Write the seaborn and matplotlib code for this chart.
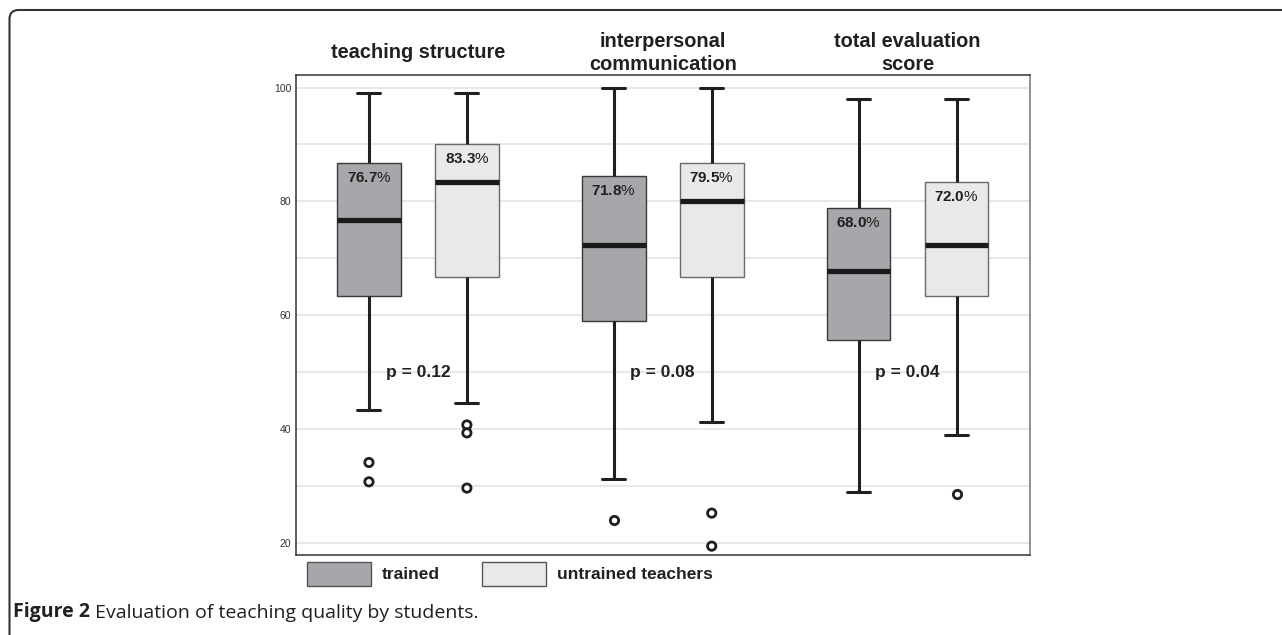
import numpy as np
import pandas as pd
import seaborn as sns
import matplotlib.pyplot as plt
from matplotlib.patches import Patch, FancyBboxPatch
from matplotlib.ticker import MultipleLocator
from matplotlib.transforms import IdentityTransform

# categories and groups
categories = ["structure", "communication", "total"]
titles = ["teaching structure", "interpersonal\ncommunication", "total evaluation\nscore"]
groups = ["trained", "untrained teachers"]
group_colors = ["#a6a7aa", "#e9e9eb"]

# box summaries: whisker low, Q1, median, Q3, whisker high
trained_low = [43.3, 31.2, 28.9]
trained_q1 = [63.4, 59.0, 55.6]
trained_med = [76.7, 72.3, 67.8]
trained_q3 = [86.8, 84.5, 78.9]
trained_high = [99.0, 100.0, 97.9]

untrained_low = [44.5, 41.2, 38.9]
untrained_q1 = [66.7, 66.7, 63.4]
untrained_med = [83.4, 80.0, 72.3]
untrained_q3 = [90.1, 86.7, 83.4]
untrained_high = [99.0, 100.0, 97.9]

trained_outliers = [[34.1, 30.7], [24.0], []]
untrained_outliers = [[40.7, 39.3, 29.6], [25.2, 19.4], [28.5]]

# printed labels
trained_labels = ["76.7", "71.8", "68.0"]
untrained_labels = ["83.3", "79.5", "72.0"]
p_values = ["p = 0.12", "p = 0.08", "p = 0.04"]


def main():
    sns.set_theme(style="whitegrid")
    plt.rcParams['font.family'] = ['Liberation Sans', 'DejaVu Sans']
    plt.rcParams['mathtext.fontset'] = 'custom'
    plt.rcParams['mathtext.bf'] = 'Liberation Sans:bold'
    plt.rcParams['mathtext.rm'] = 'Liberation Sans'
    ink = "#231f20"

    # long-form tables for seaborn
    summaries = {
        "trained": (trained_low, trained_q1, trained_med, trained_q3, trained_high),
        "untrained teachers": (untrained_low, untrained_q1, untrained_med, untrained_q3, untrained_high),
    }
    rows = []
    for grp, stats in summaries.items():
        for i, cat in enumerate(categories):
            for s in stats:
                rows.append({"category": cat, "group": grp, "score": s[i]})
    box_df = pd.DataFrame(rows)

    out_rows = []
    for grp, outs in zip(groups, [trained_outliers, untrained_outliers]):
        for cat, vals in zip(categories, outs):
            for v in vals:
                out_rows.append({"category": cat, "group": grp, "score": v})
    out_df = pd.DataFrame(out_rows)

    fig = plt.figure(figsize=(12.82, 6.35), dpi=100)
    ax = fig.add_axes([295.5 / 1282, 80 / 635, 734.5 / 1282, 480 / 635])

    sns.boxplot(data=box_df, x="category", y="score", hue="group",
                order=categories, hue_order=groups, palette=group_colors,
                saturation=1, width=0.8, gap=0.35, whis=(0, 100),
                showfliers=False, linecolor=ink, linewidth=2.2,
                capwidths=0.094, boxprops=dict(linewidth=1.0),
                medianprops=dict(linewidth=3.8, color="#1a1a1a"),
                legend=False, ax=ax)
    for p in ax.patches:
        fc = p.get_facecolor()
        p.set_edgecolor("#3a3a3a" if fc[0] < 0.8 else "#6a6a6a")

    sns.stripplot(data=out_df, x="category", y="score", hue="group",
                  order=categories, hue_order=groups,
                  palette=["white", "white"], dodge=True, jitter=False,
                  size=6, linewidth=2.0, edgecolor=ink, legend=False,
                  ax=ax, zorder=4)

    ax.set_xlim(-0.5, 2.5)
    ax.set_ylim(17.84, 102.2)
    ax.set(xlabel="", ylabel="")
    ax.set_yticks([20, 40, 60, 80, 100])
    ax.yaxis.set_minor_locator(MultipleLocator(10))
    ax.tick_params(axis='x', length=0, labelbottom=False)
    ax.tick_params(axis='y', which='both', length=0, pad=3, labelsize=7.5, labelcolor="#333333")
    ax.grid(False)
    ax.grid(True, axis='y', which='both', color="#e8e8e8", linewidth=1.5)
    ax.set_axisbelow(True)
    for side, sp in ax.spines.items():
        sp.set_visible(True)
        sp.set_linewidth(1.1)
        sp.set_color("#777777" if side == "right" else "#333333")

    # panel titles
    for i, t in enumerate(titles):
        ax.text(i, 1.046, t, transform=ax.get_xaxis_transform(), ha='center',
                va='center', fontsize=14.4, fontweight='bold', color=ink,
                linespacing=1.23)

    # median labels just under the upper hinge
    for off, labs, q3 in [(-0.2, trained_labels, trained_q3), (0.2, untrained_labels, untrained_q3)]:
        for i in range(len(categories)):
            ax.annotate(rf"$\mathbf{{{labs[i]}}}$%", xy=(i + off, q3[i]),
                        xytext=(0, -11), textcoords='offset points',
                        ha='center', va='center', fontsize=11, color=ink)

    for i, p in enumerate(p_values):
        ax.text(i, 50, p, ha='center', va='center', fontsize=12.5,
                fontweight='bold', color=ink)

    handles = [Patch(facecolor=c, edgecolor="#555555", linewidth=1.0) for c in group_colors]
    fig.legend(handles, groups, loc='upper left',
               bbox_to_anchor=(307 / 1282, 1 - 561.7 / 635), ncol=2,
               frameon=False, prop=dict(weight='bold', size=12.5),
               handlelength=3.68, handleheight=1.78, handletextpad=0.61,
               columnspacing=2.47, borderpad=0, borderaxespad=0,
               labelcolor=ink)

    # caption
    t1 = fig.text(13 / 1282, 1 - 617 / 635, "Figure 2", fontfamily="Open Sans",
                  fontweight="bold", fontsize=14, va="baseline", color=ink)
    ax.annotate(" Evaluation of teaching quality by students.", xy=(1, 0),
                xycoords=t1, ha='left', va='bottom', fontfamily="Open Sans",
                fontsize=14, color=ink)

    # outer frame of the figure page
    fig.add_artist(FancyBboxPatch((9.5, -60), 1400, 685,
                                  boxstyle="round,pad=0,rounding_size=9",
                                  transform=IdentityTransform(), fill=False,
                                  edgecolor="#333333", linewidth=1.5))

    plt.savefig("out.png", dpi=100, facecolor="white")


if __name__ == '__main__':
    main()
